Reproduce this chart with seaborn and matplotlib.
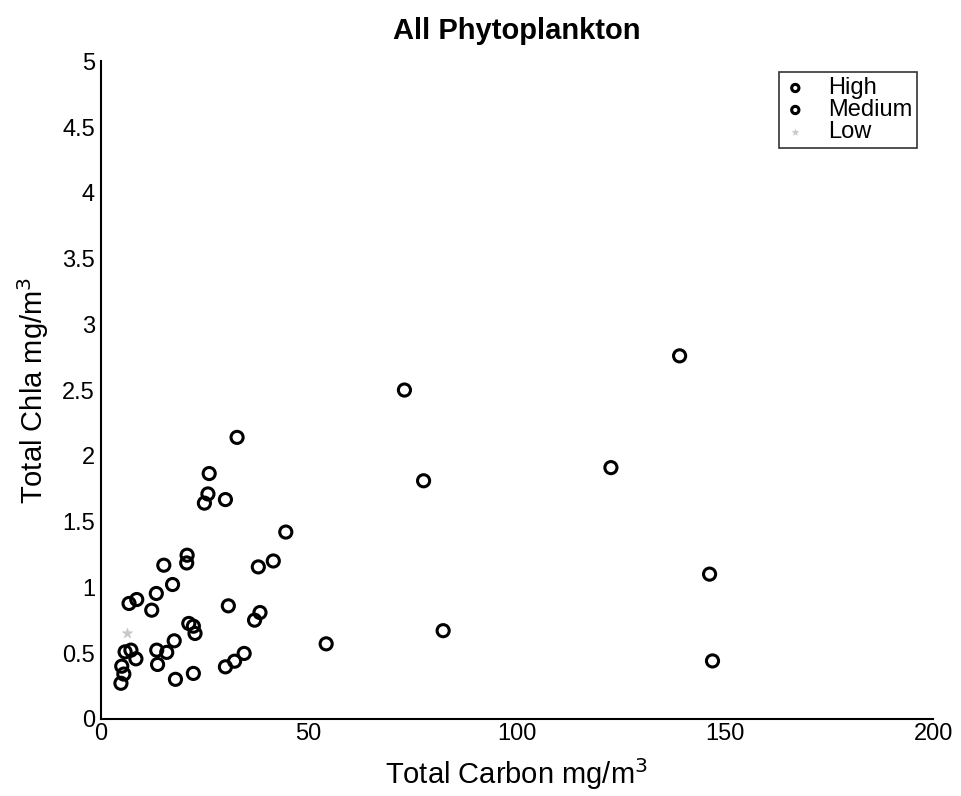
import matplotlib
matplotlib.use("Agg")
import matplotlib.pyplot as plt
import seaborn as sns
import pandas as pd

# Data
high_carbon = [73.0, 139.1, 77.6, 122.6, 146.3, 82.3, 147.0, 54.2, 44.5, 41.5, 32.8, 26.1]
high_chla = [2.50, 2.76, 1.81, 1.91, 1.10, 0.67, 0.44, 0.57, 1.42, 1.20, 2.14, 1.865]

medium_carbon = [25.8, 24.95, 30.0, 20.8, 20.7, 15.2, 37.9, 17.3, 13.4, 8.7, 6.85, 12.3,
                 30.7, 38.3, 37.0, 21.2, 22.3, 22.7, 17.7, 13.5, 15.9, 34.5, 32.2, 30.0,
                 13.7, 22.3, 18.0, 5.9, 7.3, 8.5, 5.1, 5.6, 4.9]
medium_chla = [1.71, 1.64, 1.667, 1.244, 1.185, 1.168, 1.155, 1.021, 0.953, 0.907, 0.877, 0.826,
               0.859, 0.808, 0.75, 0.725, 0.704, 0.649, 0.593, 0.522, 0.505, 0.497, 0.438, 0.395,
               0.413, 0.345, 0.30, 0.509, 0.522, 0.456, 0.40, 0.34, 0.27]

low_carbon = [6.3]
low_chla = [0.65]

x_ticks = [0, 50, 100, 150, 200]
y_ticks = [0, 0.5, 1, 1.5, 2, 2.5, 3, 3.5, 4, 4.5, 5]
y_tick_labels = ["0", "0.5", "1", "1.5", "2", "2.5", "3", "3.5", "4", "4.5", "5"]

sns.set_style("white")
plt.rcParams["font.family"] = ["Liberation Sans", "DejaVu Sans"]
plt.rcParams["text.color"] = "black"
plt.rcParams["axes.labelcolor"] = "black"

fig = plt.figure(figsize=(9.62, 7.96), dpi=100)
ax = fig.add_axes([0.1045, 0.097, 0.8655, 0.826])

df_high = pd.DataFrame({"carbon": high_carbon, "chla": high_chla})
df_med = pd.DataFrame({"carbon": medium_carbon, "chla": medium_chla})
df_low = pd.DataFrame({"carbon": low_carbon, "chla": low_chla})

sns.scatterplot(data=df_high, x="carbon", y="chla", ax=ax, marker="o", s=76,
                facecolor="none", edgecolor="black", linewidth=2.2, label="High")
sns.scatterplot(data=df_med, x="carbon", y="chla", ax=ax, marker="o", s=76,
                facecolor="none", edgecolor="black", linewidth=2.2, label="Medium")
sns.scatterplot(data=df_low, x="carbon", y="chla", ax=ax, marker="*", s=60,
                color="#c8c8c8", edgecolor="#c8c8c8", linewidth=0.5, label="Low")

ax.set_xlim(0, 200)
ax.set_ylim(0, 5)
ax.set_xticks(x_ticks)
ax.set_yticks(y_ticks)
ax.set_yticklabels(y_tick_labels)

for s in ["top", "right"]:
    ax.spines[s].set_visible(False)
for s in ["left", "bottom"]:
    ax.spines[s].set_color("black")
    ax.spines[s].set_linewidth(1.5)

ax.tick_params(axis="x", direction="in", length=7, width=1.2, labelsize=17, pad=3, colors="black")
ax.tick_params(axis="y", direction="in", length=4.5, width=1.2, labelsize=17, pad=4, colors="black")

ax.set_xlabel("Total Carbon mg/m$^3$", fontsize=21, labelpad=8, color="black")
ax.set_ylabel("Total Chla mg/m$^3$", fontsize=21, labelpad=8, color="black")
ax.set_title("All Phytoplankton", fontsize=21, fontweight="bold", pad=16, color="black")

leg = ax.legend(loc="upper right", bbox_to_anchor=(0.981, 0.983), fontsize=17,
                markerscale=0.6, frameon=True, fancybox=False, borderpad=0.2,
                labelspacing=0.0, handletextpad=0.9, handlelength=1.0, borderaxespad=0)
leg.get_frame().set_edgecolor("black")
leg.get_frame().set_linewidth(1.2)
for t in leg.get_texts():
    t.set_color("black")

fig.savefig("out.png", dpi=100, facecolor="white")
